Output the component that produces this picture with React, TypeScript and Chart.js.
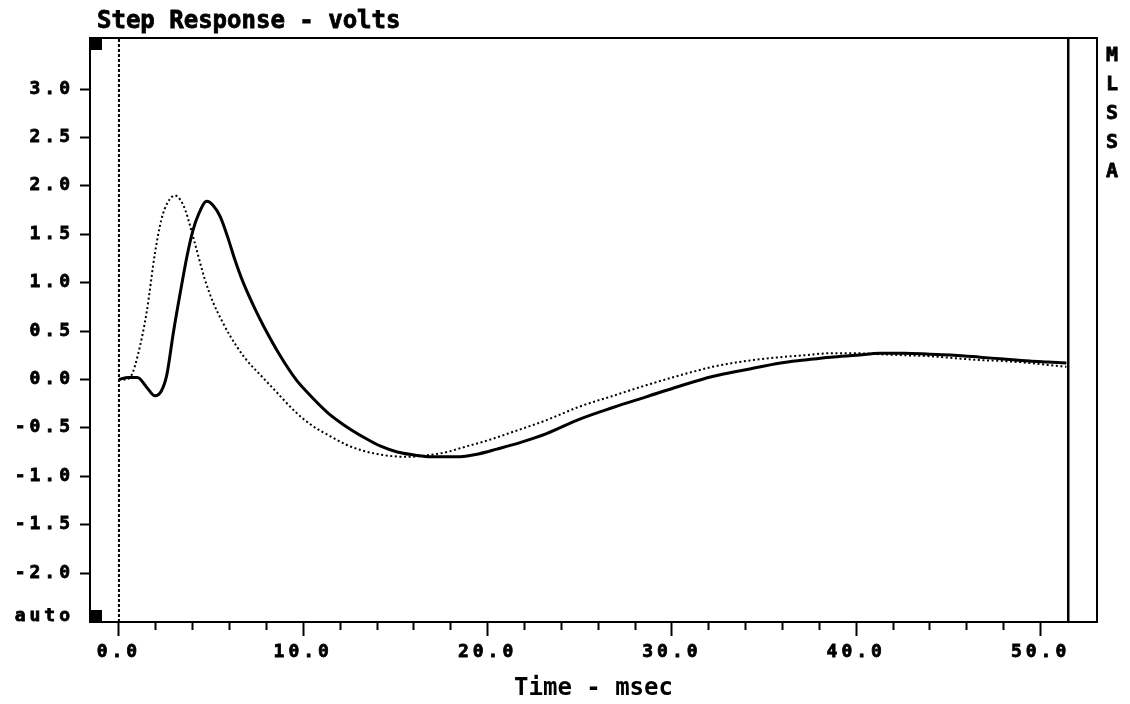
import React, { useEffect, useRef } from 'react';
import { Chart, registerables, LinearScale } from 'chart.js';

Chart.register(...registerables);

// Linear scale whose tick labels are drawn with extra letter spacing (wide bitmap-like font)
class WideLinearScale extends LinearScale {
  static id = 'wideLinear';
  static defaults = LinearScale.defaults;
  drawLabels(area: any) {
    const ctx: any = (this as any).ctx;
    ctx.save();
    ctx.letterSpacing = '4px';
    super.drawLabels(area);
    ctx.restore();
  }
}
Chart.register(WideLinearScale as any);

// ---------------- data ----------------
const solidTime = [0, 0.5, 1.0, 1.5, 1.95, 2.3, 2.6, 2.95, 3.35, 3.7, 4.0, 4.35, 4.76, 5.1, 5.5, 5.9, 6.3, 6.7, 7.4, 7.85, 8.7, 9.6, 10.1, 11.3, 12.2, 13.3, 14.2, 15.1, 16.0, 16.9, 18.3, 19.5, 20.5, 21.8, 23.2, 25.0, 26.8, 28.6, 30.4, 32.2, 34.0, 35.9, 37.2, 38.6, 40.0, 41.3, 42.6, 44.0, 45.3, 46.7, 48.0, 49.4, 50.4, 51.4];
const solidVolts = [0.0, 0.02, 0.02, -0.08, -0.17, -0.12, 0.05, 0.48, 0.92, 1.28, 1.53, 1.72, 1.84, 1.8, 1.68, 1.47, 1.23, 1.02, 0.72, 0.55, 0.26, 0.0, -0.11, -0.34, -0.47, -0.6, -0.69, -0.75, -0.78, -0.8, -0.8, -0.77, -0.72, -0.65, -0.56, -0.41, -0.29, -0.18, -0.07, 0.03, 0.1, 0.17, 0.2, 0.23, 0.25, 0.27, 0.27, 0.26, 0.25, 0.23, 0.21, 0.19, 0.18, 0.17];

const dottedTime = [0, 0.4, 0.7, 1.05, 1.5, 1.95, 2.3, 2.65, 3.04, 3.35, 3.6, 4.1, 4.65, 5.1, 5.6, 6.0, 6.8, 7.8, 8.3, 9.6, 10.5, 11.5, 12.4, 13.3, 14.0, 14.7, 15.6, 16.9, 17.8, 18.7, 20.0, 21.4, 23.2, 25.0, 26.8, 28.6, 30.4, 32.2, 34.0, 35.9, 37.2, 38.6, 40.0, 41.3, 42.6, 44.0, 45.3, 46.7, 48.0, 49.4, 50.4, 51.4];
const dottedVolts = [0.0, 0.0, 0.05, 0.27, 0.69, 1.3, 1.65, 1.83, 1.9, 1.85, 1.75, 1.42, 1.04, 0.8, 0.6, 0.46, 0.23, 0.02, -0.08, -0.34, -0.48, -0.59, -0.68, -0.74, -0.77, -0.79, -0.8, -0.78, -0.75, -0.7, -0.63, -0.54, -0.42, -0.28, -0.17, -0.06, 0.04, 0.13, 0.19, 0.23, 0.25, 0.27, 0.27, 0.26, 0.25, 0.24, 0.22, 0.2, 0.19, 0.17, 0.15, 0.13];

const cursorATime = 0; // dashed cursor
const cursorBTime = 51.5; // solid cursor

const xRange = [-1.57, 53.06];
const yRange = [-2.506, 3.527];

const xMajorTicks = [0, 10, 20, 30, 40, 50];
const xMinorTicks = [2, 4, 6, 8, 12, 14, 16, 18, 22, 24, 26, 28, 32, 34, 36, 38, 42, 44, 46, 48];
const yTickValues = [-2.0, -1.5, -1.0, -0.5, 0.0, 0.5, 1.0, 1.5, 2.0, 2.5, 3.0];
const autoTickValue = -2.45;
const autoTickLabel = 'auto';

const chartTitle = 'Step Response - volts';
const xAxisTitle = 'Time - msec';
const sideLabel = 'MLSSA';

const MONO = '"DejaVu Sans Mono", "Liberation Mono", monospace';

const decorPlugin = {
  id: 'decor',
  afterDraw(chart: any) {
    const { ctx, chartArea } = chart;
    const { left, right, top, bottom } = chartArea;
    ctx.save();
    // top and right frame
    ctx.strokeStyle = '#000';
    ctx.lineWidth = 2;
    ctx.beginPath();
    ctx.moveTo(left, top);
    ctx.lineTo(right, top);
    ctx.lineTo(right, bottom);
    ctx.stroke();
    // marker squares
    ctx.fillStyle = '#000';
    ctx.fillRect(left, top - 1, 12, 13);
    ctx.fillRect(left, bottom - 12, 12, 12);
    // title
    ctx.font = `bold 24px ${MONO}`;
    ctx.textAlign = 'left';
    ctx.textBaseline = 'alphabetic';
    ctx.lineWidth = 0.8;
    ctx.fillText(chartTitle, 97, 28);
    ctx.strokeText(chartTitle, 97, 28);
    // side label, vertical letters
    ctx.font = `bold 20px ${MONO}`;
    ctx.textAlign = 'center';
    ctx.textBaseline = 'middle';
    const letters = sideLabel.split('');
    letters.forEach((ch, i) => {
      ctx.fillText(ch, right + 15, 56 + i * 29);
      ctx.strokeText(ch, right + 15, 56 + i * 29);
    });
    ctx.restore();
  },
};

export default function App() {
  const canvasRef = useRef<HTMLCanvasElement | null>(null);

  useEffect(() => {
    if (!canvasRef.current) return;
    const tickFont = { family: MONO, size: 18, weight: 'bold' as const };
    const chart = new Chart(canvasRef.current, {
      type: 'line',
      data: {
        datasets: [
          {
            label: 'solid',
            data: solidTime.map((t, i) => ({ x: t, y: solidVolts[i] })),
            borderColor: '#000',
            borderWidth: 3,
            pointRadius: 0,
            cubicInterpolationMode: 'monotone',
            fill: false,
          },
          {
            label: 'dotted',
            data: dottedTime.map((t, i) => ({ x: t, y: dottedVolts[i] })),
            borderColor: '#000',
            borderWidth: 2,
            borderDash: [2, 2.6],
            pointRadius: 0,
            cubicInterpolationMode: 'monotone',
            fill: false,
          },
          {
            label: 'cursorA',
            data: [
              { x: cursorATime, y: yRange[0] },
              { x: cursorATime, y: yRange[1] },
            ],
            borderColor: '#000',
            borderWidth: 2,
            borderDash: [3, 2],
            pointRadius: 0,
            tension: 0,
            fill: false,
          },
          {
            label: 'cursorB',
            data: [
              { x: cursorBTime, y: yRange[0] },
              { x: cursorBTime, y: yRange[1] },
            ],
            borderColor: '#000',
            borderWidth: 2.5,
            pointRadius: 0,
            tension: 0,
            fill: false,
          },
        ] as any,
      },
      options: {
        animation: false,
        responsive: true,
        maintainAspectRatio: false,
        events: [],
        layout: { padding: { left: 0, right: 33, top: 38, bottom: 0 } },
        plugins: {
          legend: { display: false },
          tooltip: { enabled: false },
          title: { display: false },
        },
        scales: {
          x: {
            type: 'wideLinear' as any,
            position: 'bottom',
            weight: 1,
            min: xRange[0],
            max: xRange[1],
            afterBuildTicks: (s: any) => {
              s.ticks = xMajorTicks.map((v) => ({ value: v }));
            },
            afterFit: (s: any) => {
              s.height = 82;
            },
            ticks: {
              autoSkip: false,
              maxRotation: 0,
              padding: 6,
              color: '#000',
              font: tickFont,
              textStrokeColor: '#000',
              textStrokeWidth: 0.8,
              callback: (v: any) => Number(v).toFixed(1),
            },
            grid: {
              drawOnChartArea: false,
              drawTicks: true,
              tickLength: 14,
              tickWidth: 2,
              tickColor: '#000',
            },
            border: { display: true, color: '#000', width: 2 },
            title: {
              display: true,
              text: xAxisTitle,
              color: '#000',
              font: { family: MONO, size: 24, weight: 'bold' },
              padding: { top: 0, bottom: 1 },
            },
          } as any,
          x2: {
            type: 'linear',
            position: 'bottom',
            weight: 0,
            min: xRange[0],
            max: xRange[1],
            afterBuildTicks: (s: any) => {
              s.ticks = xMinorTicks.map((v) => ({ value: v }));
            },
            afterFit: (s: any) => {
              s.height = 0;
            },
            ticks: { autoSkip: false, maxRotation: 0, callback: () => '' },
            grid: {
              drawOnChartArea: false,
              drawTicks: true,
              tickLength: 8,
              tickWidth: 2,
              tickColor: '#000',
            },
            border: { display: false },
          } as any,
          y: {
            type: 'wideLinear' as any,
            position: 'left',
            min: yRange[0],
            max: yRange[1],
            afterBuildTicks: (s: any) => {
              s.ticks = [{ value: autoTickValue }, ...yTickValues.map((v) => ({ value: v }))];
            },
            afterFit: (s: any) => {
              s.width = 90;
            },
            ticks: {
              autoSkip: false,
              padding: 6,
              color: '#000',
              font: tickFont,
              textStrokeColor: '#000',
              textStrokeWidth: 0.8,
              callback: (v: any) => (Number(v) === autoTickValue ? autoTickLabel : Number(v).toFixed(1)),
            },
            grid: {
              drawOnChartArea: false,
              drawTicks: true,
              tickLength: 10,
              tickWidth: 2,
              tickColor: (c: any) => (c.tick && c.tick.value === autoTickValue ? 'rgba(0,0,0,0)' : '#000'),
            },
            border: { display: true, color: '#000', width: 2 },
          } as any,
        },
      },
      plugins: [decorPlugin],
    });
    return () => chart.destroy();
  }, []);

  return (
    <div style={{ position: 'fixed', left: 0, top: 0, width: 1130, height: 704, background: '#fff' }}>
      <canvas ref={canvasRef} />
    </div>
  );
}
